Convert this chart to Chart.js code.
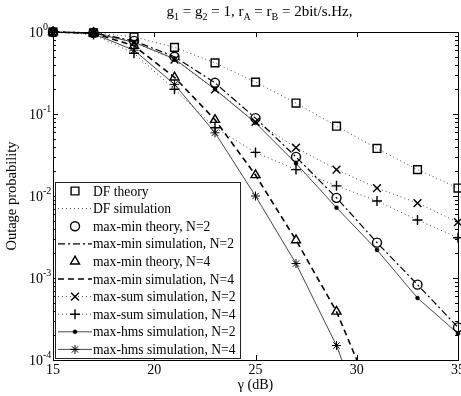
<!DOCTYPE html>
<html>
<head>
<meta charset="utf-8">
<script src="https://cdn.jsdelivr.net/npm/chart.js@4.4.0/dist/chart.umd.min.js"></script>
<style>
  html, body { margin: 0; padding: 0; background: #fff; overflow: hidden; width: 461px; height: 396px; }
  canvas { display: block; }
</style>
</head>
<body>
<canvas id="chart" width="480" height="396"></canvas>
<script>
// ---- data (gamma in dB, outage probability) ----
const snr = [15, 17, 19, 21, 23, 25, 27, 29, 31, 33, 35];
const dfTheory     = [1, 0.98, 0.87, 0.65, 0.42, 0.245, 0.136, 0.071, 0.038, 0.021, 0.0125];
const dfSim        = [1, 0.98, 0.87, 0.65, 0.42, 0.245, 0.136, 0.071, 0.038, 0.021, 0.0125];
const maxMinTh2    = [1, 0.98, 0.78, 0.50, 0.24, 0.089, 0.030, 0.0095, 0.0027, 0.00083, 0.00025];
const maxMinSim2   = [1, 0.98, 0.78, 0.50, 0.24, 0.089, 0.030, 0.0095, 0.0027, 0.00083, 0.00025];
const maxMinTh4    = [1, 0.97, 0.68, 0.28, 0.085, 0.018, 0.0029, 0.00039];
const maxMinSim4   = [1, 0.97, 0.68, 0.28, 0.085, 0.018, 0.0029, 0.00039, 0.000026];
const maxSum2      = [1, 0.97, 0.75, 0.46, 0.20, 0.080, 0.039, 0.021, 0.0125, 0.0082, 0.0048];
const maxSum4      = [1, 0.93, 0.55, 0.20, 0.068, 0.034, 0.021, 0.0133, 0.0087, 0.0051, 0.0031];
const maxHms2      = [1, 0.97, 0.75, 0.47, 0.20, 0.078, 0.025, 0.0072, 0.0022, 0.00057, 0.00021];
const maxHms4      = [1, 0.95, 0.60, 0.23, 0.059, 0.010, 0.0015, 0.00015, 0.000007];

const xTicks = [15, 20, 25, 30, 35];
const yDecades = [0, -1, -2, -3, -4];

const FONT = '"Liberation Serif", "Times New Roman", serif';

function pts(vals) { return vals.map((v, i) => ({ x: snr[i], y: v })); }

const clipBox = { left: 8, top: 8, right: 8, bottom: 0 };

// one entry per legend row, in the order shown
const series = [
  { label: 'DF theory', data: dfTheory, marker: 'rect', r: 5.5, line: false },
  { label: 'DF simulation', data: dfSim, marker: false, line: true, dash: [1, 3], width: 1, color: '#444' },
  { label: 'max-min theory, N=2', data: maxMinTh2, marker: 'circle', r: 4.5, line: false },
  { label: 'max-min simulation, N=2', data: maxMinSim2, marker: false, line: true, dash: [7, 3, 2, 3], width: 1.2, color: '#000' },
  { label: 'max-min theory, N=4', data: maxMinTh4, marker: 'triangle', r: 5.2, line: false },
  { label: 'max-min simulation, N=4', data: maxMinSim4, marker: false, line: true, dash: [6, 4], width: 1.6, color: '#000' },
  { label: 'max-sum simulation, N=2', data: maxSum2, marker: 'crossRot', r: 5.5, line: true, dash: [1, 3], width: 1, color: '#444' },
  { label: 'max-sum simulation, N=4', data: maxSum4, marker: 'cross', r: 5, line: true, dash: [1, 3], width: 1, color: '#444' },
  { label: 'max-hms simulation, N=2', data: maxHms2, marker: 'dot', r: 2, line: true, dash: [], width: 0.9, color: '#333' },
  { label: 'max-hms simulation, N=4', data: maxHms4, marker: 'star', r: 4.5, line: true, dash: [], width: 0.9, color: '#333' },
];

const datasets = series.map(s => ({
  label: s.label,
  data: pts(s.data),
  showLine: s.line,
  borderColor: s.line ? s.color : '#000',
  borderWidth: s.line ? s.width : 0,
  borderDash: s.dash || [],
  pointStyle: s.marker === 'dot' ? 'circle' : (s.marker || 'circle'),
  pointRadius: s.marker ? s.r : 0,
  pointBorderColor: '#000',
  pointBackgroundColor: s.marker === 'dot' ? '#000' : 'rgba(0,0,0,0)',
  pointBorderWidth: s.marker === 'dot' ? 0.5 : (s.marker === 'star' ? 1 : 1.4),
  clip: clipBox,
}));

// draws the box, inward ticks, tick labels, title, axis titles and legend (MATLAB look)
const decor = {
  id: 'decor',
  afterDatasetsDraw(chart) {
    const { ctx, chartArea: a, scales } = chart;
    const xs = scales.x, ys = scales.y;
    ctx.save();
    ctx.strokeStyle = '#000';
    ctx.lineWidth = 1;
    ctx.strokeRect(a.left + 0.5, a.top + 0.5, a.right - a.left, a.bottom - a.top);

    ctx.beginPath();
    xTicks.forEach(t => {
      const x = Math.round(xs.getPixelForValue(t)) + 0.5;
      ctx.moveTo(x, a.bottom); ctx.lineTo(x, a.bottom - 5);
      ctx.moveTo(x, a.top); ctx.lineTo(x, a.top + 5);
    });
    for (let e = -4; e <= 0; e++) {
      for (let m = 1; m <= 9; m++) {
        const v = m * Math.pow(10, e);
        if (e === 0 && m > 1) continue;
        const y = Math.round(ys.getPixelForValue(v)) + 0.5;
        const len = m === 1 ? 5 : 3;
        ctx.moveTo(a.left, y); ctx.lineTo(a.left + len, y);
        ctx.moveTo(a.right, y); ctx.lineTo(a.right - len, y);
      }
    }
    ctx.stroke();

    ctx.fillStyle = '#000';
    ctx.font = '14px ' + FONT;
    ctx.textAlign = 'center';
    ctx.textBaseline = 'middle';
    xTicks.forEach(t => ctx.fillText(String(t), xs.getPixelForValue(t), a.bottom + 10));

    yDecades.forEach(d => {
      const y = ys.getPixelForValue(Math.pow(10, d));
      ctx.font = '14px ' + FONT;
      ctx.textAlign = 'right';
      ctx.textBaseline = 'middle';
      ctx.fillText('10', a.left - 10, y + 1);
      ctx.font = '10px ' + FONT;
      ctx.textAlign = 'left';
      ctx.fillText(d === 0 ? '0' : '-' + (-d), a.left - 10, y - 5);
    });

    // title with subscripts
    const parts = [['g', 0], ['1', 1], [' = g', 0], ['2', 1], [' = 1, r', 0], ['A', 1], [' = r', 0], ['B', 1], [' = 2bit/s.Hz,', 0]];
    const big = '15px ', small = '10px ';
    let total = 0;
    parts.forEach(p => { ctx.font = (p[1] ? small : big) + FONT; total += ctx.measureText(p[0]).width; });
    let tx = (a.left + a.right) / 2 + 4 - total / 2;
    ctx.textAlign = 'left';
    ctx.textBaseline = 'alphabetic';
    parts.forEach(p => {
      ctx.font = (p[1] ? small : big) + FONT;
      ctx.fillText(p[0], tx, p[1] ? 20 : 16);
      tx += ctx.measureText(p[0]).width;
    });

    ctx.font = '14px ' + FONT;
    ctx.textAlign = 'center';
    ctx.textBaseline = 'middle';
    ctx.fillText('\u03b3 (dB)', (a.left + a.right) / 2, a.bottom + 25);
    ctx.save();
    ctx.translate(12, (a.top + a.bottom) / 2);
    ctx.rotate(-Math.PI / 2);
    ctx.font = '14.5px ' + FONT;
    ctx.fillText('Outage probability', 0, 0);
    ctx.restore();

    // legend
    const lx = 55, ly = 182, lw = 185, lh = 176;
    ctx.fillStyle = '#fff';
    ctx.fillRect(lx, ly, lw, lh);
    ctx.strokeStyle = '#222';
    ctx.strokeRect(lx + 0.5, ly + 0.5, lw, lh);
    series.forEach((s, i) => {
      const y = ly + 9 + i * 17.6;
      const ds = datasets[i];
      if (s.line) {
        ctx.save();
        ctx.strokeStyle = s.color;
        ctx.lineWidth = s.width;
        ctx.setLineDash(s.dash);
        ctx.beginPath();
        ctx.moveTo(58, y); ctx.lineTo(92, y);
        ctx.stroke();
        ctx.restore();
      }
      if (s.marker) {
        ctx.save();
        ctx.strokeStyle = '#000';
        ctx.fillStyle = ds.pointBackgroundColor;
        ctx.lineWidth = ds.pointBorderWidth;
        Chart.helpers.drawPoint(ctx, { pointStyle: ds.pointStyle, radius: s.r, rotation: 0, borderWidth: ds.pointBorderWidth }, 75, y);
        ctx.restore();
      }
      ctx.fillStyle = '#000';
      ctx.font = '13.6px ' + FONT;
      ctx.textAlign = 'left';
      ctx.textBaseline = 'middle';
      ctx.fillText(s.label, 93, y + 1);
    });
    ctx.restore();
  }
};

new Chart(document.getElementById('chart'), {
  type: 'scatter',
  data: { datasets },
  options: {
    responsive: false,
    animation: false,
    layout: { padding: { left: 53, right: 22, top: 32, bottom: 36 } },
    plugins: { legend: { display: false }, tooltip: { enabled: false } },
    elements: { line: { tension: 0, fill: false } },
    scales: {
      x: { type: 'linear', min: 15, max: 35, display: false },
      y: { type: 'logarithmic', min: 1e-4, max: 1, display: false },
    },
  },
  plugins: [decor],
});
</script>
</body>
</html>
